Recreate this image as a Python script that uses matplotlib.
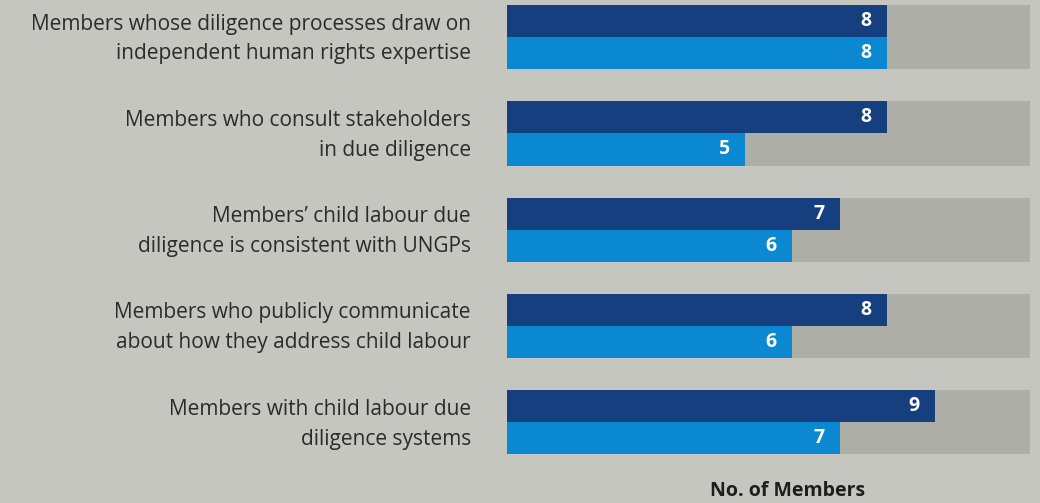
import matplotlib.pyplot as plt
import matplotlib.transforms as mtransforms
import numpy as np

plt.rcParams['font.family'] = ['Open Sans', 'DejaVu Sans']

# Data
categories = [
    "Members whose diligence processes draw on\nindependent human rights expertise",
    "Members who consult stakeholders\nin due diligence",
    "Members\u2019 child labour due\ndiligence is consistent with UNGPs",
    "Members who publicly communicate\nabout how they address child labour",
    "Members with child labour due\ndiligence systems",
]
series_dark = [8, 8, 7, 8, 9]
series_blue = [8, 5, 6, 6, 7]
total_members = 11

bg_color = "#c4c6bf"
track_color = "#adaea5"
dark_color = "#163f80"
blue_color = "#0a88d1"

fig = plt.figure(figsize=(10.4, 5.03), dpi=100, facecolor=bg_color)
ax = fig.add_axes([507 / 1040, 1 - 454.4 / 503, 523 / 1040, 449.4 / 503])
ax.set_facecolor(bg_color)

y = np.arange(len(categories))
h = 1 / 3

# gray track behind each bar
ax.barh(y - h / 2, [total_members] * len(y), height=h, color=track_color, edgecolor="none")
ax.barh(y + h / 2, [total_members] * len(y), height=h, color=track_color, edgecolor="none")
ax.barh(y - h / 2, series_dark, height=h, color=dark_color, edgecolor="none")
ax.barh(y + h / 2, series_blue, height=h, color=blue_color, edgecolor="none")

for yi, v in zip(y - h / 2, series_dark):
    ax.text(v - 0.33, yi, str(v), color="white", fontsize=14, fontweight="bold",
            ha="right", va="center")
for yi, v in zip(y + h / 2, series_blue):
    ax.text(v - 0.33, yi, str(v), color="white", fontsize=14, fontweight="bold",
            ha="right", va="center")

ax.set_xlim(0, total_members)
ax.set_ylim(len(categories) - 1 + h, -h)

ax.set_yticks(y)
ax.set_yticklabels(categories, fontsize=15, color="#2b2b2b", linespacing=1.55)
ax.tick_params(axis="y", length=0, pad=26)
# nudge labels up a little so the two lines sit centred on the bar pair
shift = mtransforms.ScaledTranslation(0, 5 / 100, fig.dpi_scale_trans)
for lbl in ax.get_yticklabels():
    lbl.set_transform(lbl.get_transform() + shift)
ax.set_xticks([])
for s in ax.spines.values():
    s.set_visible(False)

fig.text(788 / 1040, 1 - 491 / 503, "No. of Members", ha="center", va="center",
         fontsize=14, fontweight="bold", color="#1e1e1e")

fig.savefig("out.png", dpi=100, facecolor=bg_color)
